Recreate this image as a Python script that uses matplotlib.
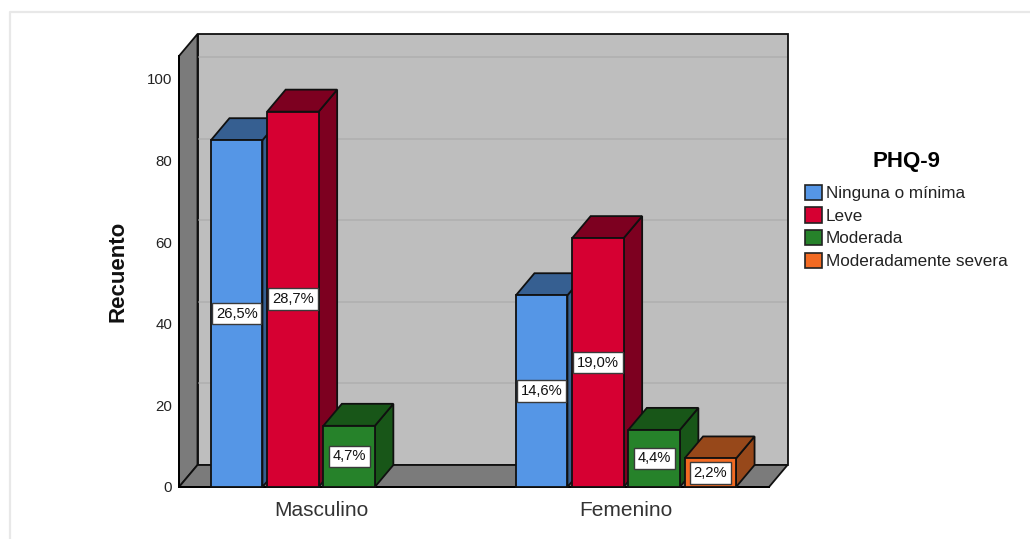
import matplotlib
matplotlib.use("Agg")
import matplotlib.pyplot as plt
from matplotlib.patches import Polygon, Rectangle
from matplotlib.lines import Line2D

plt.rcParams['font.family'] = ['Liberation Sans', 'DejaVu Sans']

groups = ['Masculino', 'Femenino']
levels = ['Ninguna o mínima', 'Leve', 'Moderada', 'Moderadamente severa']
counts = {
    'Ninguna o mínima': [85, 47],
    'Leve': [92, 61],
    'Moderada': [15, 14],
    'Moderadamente severa': [0, 7],
}
percents = {
    'Ninguna o mínima': ['26,5%', '14,6%'],
    'Leve': ['28,7%', '19,0%'],
    'Moderada': ['4,7%', '4,4%'],
    'Moderadamente severa': [None, '2,2%'],
}
yticks = [0, 20, 40, 60, 80, 100]

front = ['#5596E6', '#D60032', '#26822A', '#F26A22']
side = ['#365F91', '#7D0020', '#185618', '#97481A']

W, H = 1030, 539
fig = plt.figure(figsize=(W / 100, H / 100), dpi=100)
# thin page edge along the left and top only
fig.add_artist(Line2D([9.5 / W, 9.5 / W, 1], [0, (H - 11.5) / H, (H - 11.5) / H],
                      transform=fig.transFigure, color='#E8E8E8', lw=1.6))

ax = fig.add_axes([179 / W, (H - 487) / H, 590 / W, 431 / H])
ax.patch.set_visible(False)
px_x = 305.0    # pixels between the two groups
px_y = 4.08     # pixels per count
ax.set_xlim(-(321 - 179) / px_x, (769 - 321) / px_x)
ax.set_ylim(0, 431 / px_y)

dx = 18.5 / px_x
dy = 22 / px_y
x0, x1 = ax.get_xlim()
ytop = ax.get_ylim()[1]

def poly(pts, fc, z, lw=1.3):
    ax.add_patch(Polygon(pts, closed=True, fc=fc, ec='#101010', lw=lw, zorder=z, clip_on=False))

# walls and floor
poly([(x0 + dx, dy), (x1 + dx, dy), (x1 + dx, ytop + dy), (x0 + dx, ytop + dy)], '#BEBEBE', 1)
poly([(x0, 0), (x0 + dx, dy), (x0 + dx, ytop + dy), (x0, ytop)], '#7B7B7B', 2)
poly([(x0, 0), (x1, 0), (x1 + dx, dy), (x0 + dx, dy)], '#7B7B7B', 2)
for v in yticks[1:]:
    ax.add_line(Line2D([x0 + dx + 0.003, x1 + dx - 0.003], [v + dy, v + dy], color='#B0B0B0', lw=1.2,
                       solid_capstyle='butt', zorder=1.5, clip_on=False))

# bars, left to right so the nearer faces overlap
pitch = 56.2 / px_x
width = 51.5 / px_x
z = 3
for g in range(len(groups)):
    for i, level in enumerate(levels):
        v = counts[level][g]
        if v == 0:
            continue
        left = g + (i - 1.5) * pitch - width / 2
        right = left + width
        poly([(right, 0), (right + dx, dy), (right + dx, v + dy), (right, v)], side[i], z)
        poly([(left, v), (right, v), (right + dx, v + dy), (left + dx, v + dy)], side[i], z)
        ax.bar(left, v, width=width, align='edge', color=front[i], edgecolor='#101010', lw=1.3,
               zorder=z + 0.5, clip_on=False)
        ax.text(left + width / 2, v / 2, percents[level][g], ha='center', va='center', fontsize=10.6,
                color='#111111', zorder=20,
                bbox=dict(boxstyle='square,pad=0.26', fc='white', ec='#3A3A3A', lw=1.0))
        z += 1

ax.spines[['top', 'right']].set_visible(False)
ax.spines[['left', 'bottom']].set_linewidth(1.4)
ax.spines[['left', 'bottom']].set_zorder(2.5)
ax.set_yticks(yticks)
ax.set_xticks(range(len(groups)), groups)
ax.tick_params(axis='y', length=0, pad=5, labelsize=10.8, colors='#222222')
ax.tick_params(axis='x', length=0, pad=10, labelsize=15, colors='#333333')
ax.set_ylabel('Recuento', fontsize=16, fontweight='bold', color='#111111', labelpad=13)

handles = [Rectangle((0, 0), 1, 1, fc=c, ec='#222222', lw=1.2) for c in front]
leg = fig.legend(handles, levels, title='PHQ-9', loc='upper left', bbox_to_anchor=(800 / W, (H - 146) / H),
                 frameon=False, fontsize=12.3, handlelength=1.0, handleheight=1.0,
                 handletextpad=0.2, labelspacing=0.36, borderpad=0.3, borderaxespad=0,
                 title_fontproperties={'size': 16, 'weight': 'bold'})
leg._legend_box.sep = 9
for t in leg.get_texts():
    t.set_color('#222222')

fig.savefig('out.png', dpi=100)
